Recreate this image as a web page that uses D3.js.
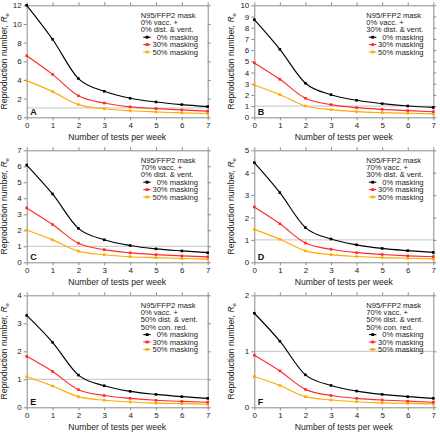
<!DOCTYPE html>
<html><head><meta charset="utf-8">
<script src="https://cdn.jsdelivr.net/npm/d3@7"></script>
<style>body{margin:0;background:#fff}svg{display:block;font-family:"Liberation Sans",Arial,sans-serif}</style>
</head><body><svg id="c" width="440" height="435"></svg>
<script>
const testsPerWeek = [0,1,2,3,4,5,6,7];
const seriesNames = ["0% masking","30% masking","50% masking"];
const seriesColors = ["#000000","#ff2a2a","#ffaa00"];

const A_black = [12.0, 8.36, 4.15, 2.79, 2.04, 1.64, 1.36, 1.15];
const A_red = [6.6, 4.6, 2.3, 1.53, 1.12, 0.93, 0.79, 0.66];
const A_orange = [3.93, 2.75, 1.36, 0.92, 0.7, 0.57, 0.48, 0.41];
const B_black = [8.72, 6.07, 3.04, 2.02, 1.52, 1.22, 1.01, 0.88];
const B_red = [4.86, 3.39, 1.70, 1.13, 0.86, 0.71, 0.6, 0.5];
const B_orange = [2.89, 2.02, 1.01, 0.68, 0.51, 0.42, 0.36, 0.3];
const C_black = [6.08, 4.27, 2.12, 1.41, 1.05, 0.84, 0.71, 0.6];
const C_red = [3.4, 2.36, 1.19, 0.79, 0.59, 0.48, 0.4, 0.34];
const C_orange = [2.02, 1.4, 0.7, 0.47, 0.35, 0.29, 0.24, 0.2];
const D_black = [4.45, 3.11, 1.55, 1.04, 0.78, 0.62, 0.52, 0.44];
const D_red = [2.47, 1.72, 0.86, 0.58, 0.43, 0.35, 0.29, 0.25];
const D_orange = [1.47, 1.03, 0.51, 0.34, 0.26, 0.21, 0.18, 0.15];
const E_black = [3.28, 2.32, 1.15, 0.77, 0.57, 0.46, 0.38, 0.32];
const E_red = [1.82, 1.28, 0.63, 0.42, 0.32, 0.25, 0.21, 0.18];
const E_orange = [1.09, 0.76, 0.38, 0.25, 0.19, 0.15, 0.13, 0.11];
const F_black = [1.68, 1.18, 0.58, 0.39, 0.29, 0.23, 0.19, 0.16];
const F_red = [0.93, 0.65, 0.32, 0.21, 0.16, 0.13, 0.11, 0.09];
const F_orange = [0.55, 0.39, 0.19, 0.13, 0.1, 0.08, 0.07, 0.06];

const panelLetters = ["A","B","C","D","E","F"];
const yMaxes = [12, 10, 7, 5, 4, 2];
const yTickSteps = [2, 1, 1, 1, 1, 1];
const legendTitles = [
  ["N95/FFP2 mask","0% vacc. +","0% dist. & vent."],
  ["N95/FFP2 mask","0% vacc. +","30% dist. & vent."],
  ["N95/FFP2 mask","70% vacc. +","0% dist. & vent."],
  ["N95/FFP2 mask","70% vacc. +","30% dist. & vent."],
  ["N95/FFP2 mask","0% vacc. +","50% dist. & vent.","50% con. red."],
  ["N95/FFP2 mask","70% vacc. +","50% dist. & vent.","50% con. red."]
];
const panelSeries = [
  [A_black,A_red,A_orange],[B_black,B_red,B_orange],[C_black,C_red,C_orange],
  [D_black,D_red,D_orange],[E_black,E_red,E_orange],[F_black,F_red,F_orange]
];

const svg = d3.select("#c");
const cols = [{l:26.7,r:207.7},{l:254.3,r:433.3}];
const rowsY = [0,145,290];
const frameColor = "#8a8a8a";
const fmt = d3.format("d");

panelLetters.forEach((letter,i)=>{
  const col = cols[i%2], rowY = rowsY[Math.floor(i/2)];
  const top = rowY+5.3, bot = rowY+117.3;
  const x = d3.scaleLinear().domain([0,7]).range([col.l,col.r]);
  const y = d3.scaleLinear().domain([0,yMaxes[i]]).range([bot,top]);
  const g = svg.append("g");
  const yt = d3.range(0, yMaxes[i]+0.001, yTickSteps[i]);

  g.append("line").attr("x1",col.l).attr("x2",col.r).attr("y1",y(1)).attr("y2",y(1))
    .attr("stroke","#c4c4c4").attr("stroke-width",1);

  const styleAxis = (sel, labels)=>{
    sel.select(".domain").attr("stroke",frameColor);
    sel.selectAll(".tick line").attr("stroke",frameColor);
    sel.selectAll(".tick text").attr("fill","#222").style("font-size","8px").style("font-family","Liberation Sans, Arial, sans-serif");
    if(!labels) sel.selectAll(".tick text").remove();
  };
  g.append("g").attr("transform",`translate(0,${bot})`)
    .call(d3.axisBottom(x).tickValues(testsPerWeek).tickFormat(fmt).tickSize(3).tickPadding(2).tickSizeOuter(0))
    .call(s=>styleAxis(s,true));
  g.append("g").attr("transform",`translate(0,${top})`)
    .call(d3.axisTop(x).tickValues(testsPerWeek).tickSize(3).tickSizeOuter(0))
    .call(s=>styleAxis(s,false));
  g.append("g").attr("transform",`translate(${col.l},0)`)
    .call(d3.axisLeft(y).tickValues(yt).tickFormat(fmt).tickSize(3).tickPadding(2).tickSizeOuter(0))
    .call(s=>styleAxis(s,true));
  g.append("g").attr("transform",`translate(${col.r},0)`)
    .call(d3.axisRight(y).tickValues(yt).tickSize(3).tickSizeOuter(0))
    .call(s=>styleAxis(s,false));

  const line = d3.line().x((d,j)=>x(testsPerWeek[j])).y(d=>y(d)).curve(d3.curveMonotoneX);
  panelSeries[i].slice().reverse().forEach((vals,k)=>{
    const si = 2-k;
    g.append("path").attr("d",line(vals)).attr("fill","none")
      .attr("stroke",seriesColors[si]).attr("stroke-width",1.15);
    g.selectAll(null).data(vals).enter().append("rect")
      .attr("x",(d,j)=>x(testsPerWeek[j])-1.3).attr("y",d=>y(d)-1.3)
      .attr("width",2.6).attr("height",2.6).attr("fill",seriesColors[si]);
  });

  const titles = legendTitles[i];
  const lx = col.r-67, ly0 = rowY+17.6, dy = 7.4;
  titles.forEach((t,k)=>{
    g.append("text").attr("x",lx).attr("y",ly0+k*dy).text(t)
      .attr("fill","#222").style("font-size","7.6px");
  });
  seriesNames.forEach((n,k)=>{
    const yy = ly0+(titles.length+k)*dy;
    g.append("line").attr("x1",col.r-64.4).attr("x2",col.r-57).attr("y1",yy-2.6).attr("y2",yy-2.6)
      .attr("stroke",seriesColors[k]).attr("stroke-width",1.1);
    g.append("rect").attr("x",col.r-62).attr("y",yy-4).attr("width",2.8).attr("height",2.8).attr("fill",seriesColors[k]);
    g.append("text").attr("x",col.r-9.7).attr("y",yy).attr("text-anchor","end").text(n)
      .attr("fill","#222").style("font-size","7.6px");
  });

  g.append("text").attr("x",col.l+3.5).attr("y",bot-2.5).text(letter)
    .attr("fill","#111").style("font-size","9px").style("font-weight","bold");

  g.append("text").attr("x",(col.l+col.r)/2).attr("y",bot+22.8).attr("text-anchor","middle")
    .text("Number of tests per week").attr("fill","#222").style("font-size","8.6px");
  const yl = g.append("text").attr("transform",`translate(${col.l-20},${(top+bot)/2}) rotate(-90)`)
    .attr("text-anchor","middle").attr("fill","#222").style("font-size","8.6px");
  yl.append("tspan").text("Reproduction number, ");
  yl.append("tspan").text("R").style("font-style","italic");
  yl.append("tspan").text("e").attr("dy",2).style("font-size","6px");
});
</script></body></html>
